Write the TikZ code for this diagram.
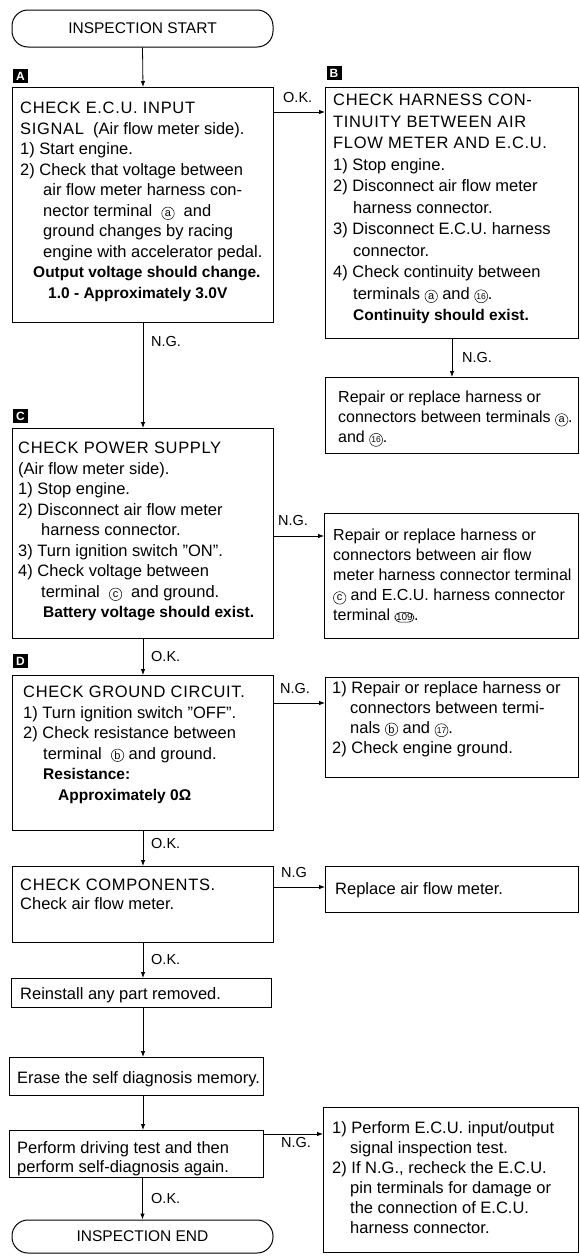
\documentclass[tikz,border=0pt]{standalone}
\usepackage{fontspec}
\setmainfont{Liberation Sans}
\newfontfamily\hdfont[LetterSpace=4]{Liberation Sans}
\usetikzlibrary{arrows.meta}
\newcommand{\circled}[1]{\tikz[baseline=(cc.base)]\node[draw,circle,inner sep=0pt,minimum size=12.5pt,line width=0.5pt](cc){\fontsize{11}{11}\selectfont #1};}
\newcommand{\circlednum}[1]{\tikz[baseline=(cc.base)]\node[draw,circle,inner sep=0pt,minimum size=13pt,line width=0.5pt](cc){\fontsize{8.5}{8.5}\selectfont #1};}
\newcommand{\termA}{\circled{a}}
\newcommand{\termB}{\circled{b}}
\newcommand{\termC}{\circled{c}}
\newcommand{\termXVI}{\circlednum{16}}
\newcommand{\termXVII}{\circlednum{17}}
\newcommand{\ovalnum}[1]{\tikz[baseline=(o.base)]\node[draw,rounded corners=5pt,inner sep=1.2pt,line width=0.6pt](o){\fontsize{10}{10}\selectfont #1};}
\newcommand{\bfb}{\bfseries\fontsize{15.5}{\the\baselineskip}\selectfont}
\tikzset{
  box/.style={draw, line width=1pt, inner sep=0pt, anchor=north west},
  term/.style={draw, line width=1pt, rounded corners=16pt, inner sep=0pt, font=\fontsize{15.5}{18}\selectfont},
  txt/.style={anchor=north west, inner sep=0pt, align=left, font=\fontsize{16.5}{20.5}\selectfont},
  lab/.style={fill=black, text=white, font=\bfseries\fontsize{12}{12}\selectfont, minimum width=15pt, minimum height=14pt, inner sep=0pt},
  cond/.style={anchor=west, inner sep=0pt, font=\fontsize{14.5}{14.5}\selectfont},
  arr/.style={-{Latex[length=6pt,width=4.5pt]}, line width=0.8pt}
}
\begin{document}
\begin{tikzpicture}[x=1pt,y=-1pt]
\useasboundingbox (0,0) rectangle (579,1256);
\fill[white] (0,0) rectangle (579,1256);

% terminals
\node[term, minimum width=261pt, minimum height=37pt] (start) at (142.5,28.5) {INSPECTION START};
\node[term, minimum width=261pt, minimum height=33pt] (end) at (142.5,1236.5) {INSPECTION END};

% boxes
\node[box, minimum width=261pt, minimum height=235pt] (A) at (12,87) {};
\node[box, minimum width=253pt, minimum height=251pt] (B) at (325,87) {};
\node[box, minimum width=253pt, minimum height=76pt] (R1) at (325,377) {};
\node[box, minimum width=261pt, minimum height=210pt] (C) at (12,428) {};
\node[box, minimum width=254pt, minimum height=125pt] (R2) at (324,513) {};
\node[box, minimum width=261pt, minimum height=155pt] (D) at (12,675) {};
\node[box, minimum width=253pt, minimum height=100pt] (R3) at (325,677) {};
\node[box, minimum width=261pt, minimum height=76pt] (K) at (12,866) {};
\node[box, minimum width=253pt, minimum height=46pt] (R5) at (325,866) {};
\node[box, minimum width=260pt, minimum height=29pt] (Re) at (11,978) {};
\node[box, minimum width=254pt, minimum height=38pt] (Er) at (9,1057) {};
\node[box, minimum width=254pt, minimum height=47pt] (Pe) at (9,1130) {};
\node[box, minimum width=255pt, minimum height=145pt] (R4) at (323,1107) {};

% letter tags
\node[lab] (labA) at (20.5,76) {A};
\node[lab] (labB) at (334,73) {B};
\node[lab] (labC) at (20.5,416) {C};
\node[lab] (labD) at (20.5,661) {D};

% texts
\node[txt] (tA) at (20,102) {{\hdfont CHECK E.C.U. INPUT}\\
{\hdfont SIGNAL}\ \ (Air flow meter side).\\
1)\ Start engine.\\
2)\ Check that voltage between\\
\hspace*{23pt}air flow meter harness con-\\
\hspace*{23pt}nector terminal \ \termA\ \ and\\
\hspace*{23pt}ground changes by racing\\
\hspace*{23pt}engine with accelerator pedal.\\
\hspace*{13pt}{\bfb Output voltage should change.}\\
\hspace*{28pt}{\bfb 1.0 - Approximately 3.0V}};

\node[txt, font=\fontsize{16.5}{21.5}\selectfont] (tB) at (333,94) {{\hdfont CHECK HARNESS CON-}\\
{\hdfont TINUITY BETWEEN AIR}\\
{\hdfont FLOW METER AND E.C.U.}\\
1)\ Stop engine.\\
2)\ Disconnect air flow meter\\
\hspace*{20pt}harness connector.\\
3)\ Disconnect E.C.U. harness\\
\hspace*{20pt}connector.\\
4)\ Check continuity between\\
\hspace*{20pt}terminals \termA\ and \termXVI.\\
\hspace*{20pt}{\bfb Continuity should exist.}};

\node[txt, font=\fontsize{16}{20}\selectfont] (tR1) at (338,391) {Repair or replace harness or\\
connectors between terminals \termA.\\
and \termXVI.};

\node[txt] (tC) at (18,442) {{\hdfont CHECK POWER SUPPLY}\\
(Air flow meter side).\\
1)\ Stop engine.\\
2)\ Disconnect air flow meter\\
\hspace*{23pt}harness connector.\\
3)\ Turn ignition switch ''ON''.\\
4)\ Check voltage between\\
\hspace*{23pt}terminal \ \termC\ \ and ground.\\
\hspace*{25pt}{\bfb Battery voltage should exist.}};

\node[txt, font=\fontsize{16}{20}\selectfont] (tR2) at (333,529) {Repair or replace harness or\\
connectors between air flow\\
meter harness connector terminal\\
\termC\ and E.C.U. harness connector\\
terminal \ovalnum{109}.};

\node[txt] (tD) at (23,686) {{\hdfont CHECK GROUND CIRCUIT.}\\
1)\ Turn ignition switch ''OFF''.\\
2)\ Check resistance between\\
\hspace*{20pt}terminal \ \termB\ and ground.\\
\hspace*{20pt}{\bfb Resistance:}\\
\hspace*{35pt}{\bfb Approximately 0Ω}};

\node[txt, font=\fontsize{16.5}{20}\selectfont] (tR3) at (332,681) {1)\ Repair or replace harness or\\
\hspace*{18pt}connectors between termi-\\
\hspace*{18pt}nals \termB\ and \termXVII.\\
2)\ Check engine ground.};

\node[txt, font=\fontsize{16.5}{19}\selectfont] (tK) at (20,879) {{\hdfont CHECK COMPONENTS.}\\
Check air flow meter.};
\node[txt] (tR5) at (335,882) {Replace air flow meter.};
\node[txt] (tRe) at (20,987) {Reinstall any part removed.};
\node[txt] (tEr) at (17,1071) {Erase the self diagnosis memory.};
\node[txt, font=\fontsize{16.5}{19}\selectfont] (tPe) at (17,1141) {Perform driving test and then\\
perform self-diagnosis again.};
\node[txt, font=\fontsize{16.5}{20}\selectfont] (tR4) at (332,1121) {1)\ Perform E.C.U. input/output\\
\hspace*{18pt}signal inspection test.\\
2)\ If N.G., recheck the E.C.U.\\
\hspace*{18pt}pin terminals for damage or\\
\hspace*{18pt}the connection of E.C.U.\\
\hspace*{18pt}harness connector.};

% connectors
\draw[arr] (start.south) -- (A.north);
\draw[arr] ([yshift=-25pt]A.north east) -- ([yshift=-25pt]B.north west);
\draw[arr] (A.south) -- (C.north);
\draw[arr] (B.south) -- (R1.north);
\coordinate (c2r) at ([yshift=-23pt]R2.north west);
\draw[arr] (C.east |- c2r) -- (c2r);
\draw[arr] (C.south) -- (D.north);
\coordinate (d2r) at ([yshift=-26pt]R3.north west);
\draw[arr] (D.east |- d2r) -- (d2r);
\draw[arr] (D.south) -- (K.north);
\coordinate (k2r) at ([yshift=-21pt]R5.north west);
\draw[arr] (K.east |- k2r) -- (k2r);
\draw[arr] (K.south) -- (K.south |- Re.north);
\draw[arr] (K.south |- Re.south) -- (K.south |- Er.north);
\draw[arr] (K.south |- Er.south) -- (K.south |- Pe.north);
\coordinate (p2r) at ([yshift=-27pt]R4.north west);
\draw[arr] (Pe.east |- p2r) -- (p2r);
\draw[arr] (Pe.south -| end.north) -- (end.north);

% condition labels
\node[cond] (okAB) at (283,98) {O.K.};
\node[cond] (ngAC) at (151,342) {N.G.};
\node[cond] (ngBR) at (462,358) {N.G.};
\node[cond] (ngCR) at (278,521) {N.G.};
\node[cond] (okCD) at (151,656) {O.K.};
\node[cond] (ngDR) at (280,688) {N.G.};
\node[cond] (okDK) at (151,843) {O.K.};
\node[cond] (ngKR) at (281,872) {N.G};
\node[cond] (okKR) at (151,959) {O.K.};
\node[cond] (ngPR) at (281,1142) {N.G.};
\node[cond] (okPE) at (151,1198) {O.K.};
\end{tikzpicture}
\end{document}
